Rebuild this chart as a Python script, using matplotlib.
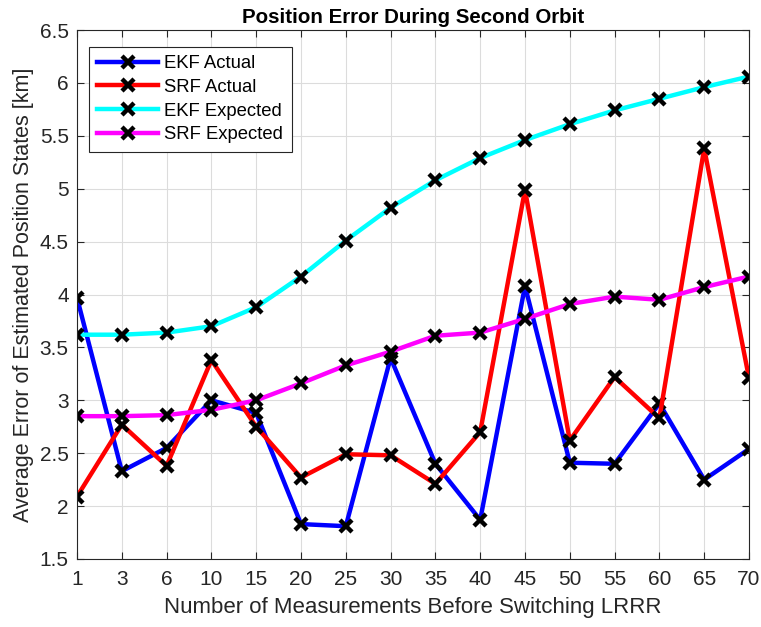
import numpy as np
import matplotlib
matplotlib.use("Agg")
import matplotlib.pyplot as plt

plt.rcParams['font.family'] = ['Liberation Sans', 'DejaVu Sans']

# number of measurements before switching (categorical x positions)
x_labels = ['1', '3', '6', '10', '15', '20', '25', '30', '35', '40', '45', '50', '55', '60', '65', '70']

ekf_actual = [3.97, 2.33, 2.55, 3.00, 2.88, 1.83, 1.81, 3.40, 2.40, 1.87, 4.08, 2.41, 2.40, 2.97, 2.25, 2.54]
srf_actual = [2.09, 2.77, 2.38, 3.38, 2.75, 2.27, 2.49, 2.48, 2.21, 2.70, 4.99, 2.62, 3.22, 2.83, 5.38, 3.21]
ekf_expected = [3.62, 3.62, 3.64, 3.70, 3.88, 4.17, 4.51, 4.82, 5.08, 5.29, 5.46, 5.61, 5.74, 5.85, 5.96, 6.06]
srf_expected = [2.85, 2.85, 2.86, 2.91, 3.00, 3.16, 3.33, 3.46, 3.61, 3.64, 3.77, 3.91, 3.98, 3.95, 4.07, 4.17]

series = [
    ('EKF Actual', ekf_actual, '#0000ff'),
    ('SRF Actual', srf_actual, '#ff0000'),
    ('EKF Expected', ekf_expected, '#00ffff'),
    ('SRF Expected', srf_expected, '#ff00ff'),
]

x = np.arange(len(x_labels))

fig = plt.figure(figsize=(7.61, 6.27), dpi=100)
ax = fig.add_axes([77 / 761, 1 - 559 / 627, (749 - 77) / 761, (559 - 30) / 627])

for name, vals, col in series:
    ax.plot(x, vals, color=col, linewidth=3.2, marker='x', markersize=8,
            markeredgewidth=3.2, markeredgecolor='black', label=name)

ax.set_xlim(0, len(x_labels) - 1)
ax.set_ylim(1.5, 6.5)
ax.set_xticks(x)
ax.set_xticklabels(x_labels)
ax.set_yticks(np.arange(1.5, 6.51, 0.5))
ax.set_yticklabels(['1.5', '2', '2.5', '3', '3.5', '4', '4.5', '5', '5.5', '6', '6.5'])
ax.tick_params(direction='in', top=True, right=True, labelsize=15, colors='#262626',
               length=5, width=0.8)
ax.tick_params(axis='x', pad=8)
ax.tick_params(axis='y', pad=6)
ax.grid(True, color='#dcdcdc', linewidth=0.8)
ax.set_axisbelow(True)
for sp in ax.spines.values():
    sp.set_color('#262626')
    sp.set_linewidth(0.8)

ax.set_xlabel('Number of Measurements Before Switching LRRR', fontsize=16, color='#262626', labelpad=6)
ax.set_ylabel('Average Error of Estimated Position States [km]', fontsize=15.5, color='#262626', labelpad=4)
ax.set_title('Position Error During Second Orbit', fontsize=14.8, fontweight='bold', pad=5)

leg = ax.legend(loc='upper left', bbox_to_anchor=(0.018, 0.968), fontsize=13.3,
                fancybox=False, edgecolor='#262626', framealpha=1, borderpad=0.45,
                labelspacing=0.36, handlelength=3.3, handletextpad=0.33, borderaxespad=0)
leg.get_frame().set_linewidth(0.8)

fig.savefig('out.png', dpi=100)
